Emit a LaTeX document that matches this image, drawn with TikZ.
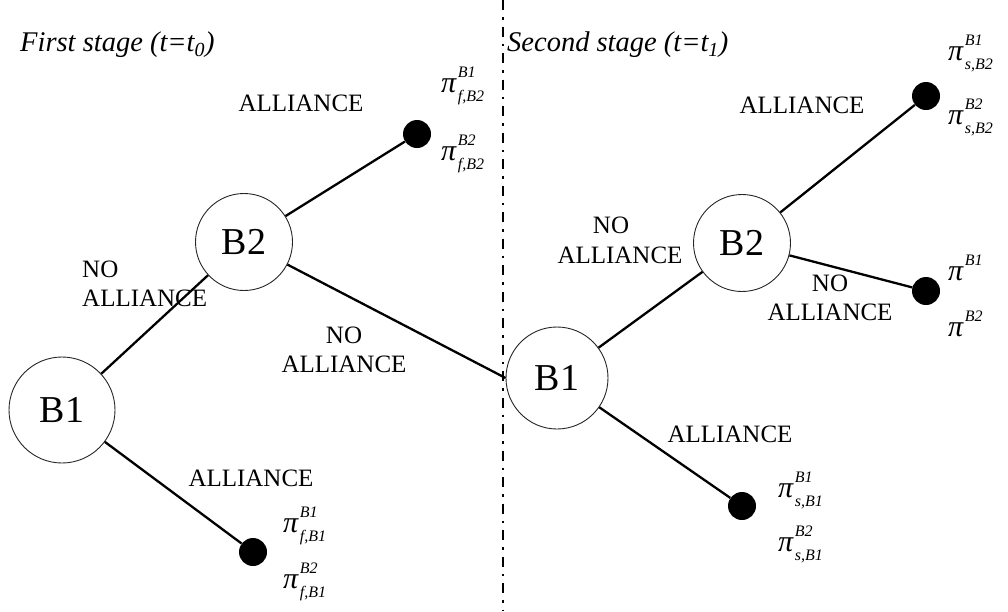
\documentclass[tikz,border=0pt]{standalone}
\usepackage{fontspec}
\setmainfont{Liberation Serif}
% payoff symbol: pi with a superscript and a subscript set one above the other
\newcommand\payoff[2]{\textit{π}\kern1pt\rlap{\raisebox{0.5em}{\fontsize{16}{16}\selectfont\textit{#1}}}\raisebox{-0.3em}{\fontsize{16}{16}\selectfont\textit{#2}}}
\begin{document}
\begin{tikzpicture}[x=1pt,y=-1pt,
  player/.style={circle,draw=black!85,line width=0.9pt,fill=white,inner sep=0pt,
    minimum size=#1,font=\fontsize{38}{40}\selectfont},
  leaf/.style={circle,fill=black,minimum size=28pt,inner sep=0pt},
  branch/.style={line width=2.3pt},
  lab/.style={font=\fontsize{25}{29}\selectfont,align=center,inner sep=0pt},
  stagelab/.style={font=\fontsize{28.5}{30}\selectfont\itshape,anchor=west,inner sep=0pt},
  pay/.style={font=\fontsize{30}{32}\selectfont,anchor=base west,inner sep=0pt}]

\useasboundingbox (0,0) rectangle (1008,611);

% stage divider
\coordinate (divtop) at (503,0);
\coordinate (divbot) at (503,611);
\draw[line width=2.3pt,dash pattern=on 10pt off 7pt on 2.5pt off 7pt] (divtop) -- (divbot);

% stage titles
\node[stagelab] (st1) at (20,45) {First stage (t=t\textsubscript{0})};
\node[stagelab] (st2) at (507,45) {Second stage (t=t\textsubscript{1})};

% decision nodes
\node[player=106pt] (b1a) at (62,410) {B1};
\node[player=97pt] (b2a) at (244,242) {B2};
\node[player=102pt] (b1b) at (557,378) {B1};
\node[player=97pt]  (b2b) at (742,243) {B2};

% terminal nodes
\node[leaf] (ta) at (417,134) {};
\node[leaf] (tb) at (253,552) {};
\node[leaf] (tc) at (926,96) {};
\node[leaf] (td) at (926,291) {};
\node[leaf] (te) at (742,506) {};

% branches
\draw[branch] (b1a) -- (b2a);
\draw[branch] (b1a) -- (tb);
\draw[branch] (b2a) -- (ta);
\draw[branch] (b2a) -- (b1b.west);
\draw[branch] (b1b) -- (b2b);
\draw[branch] (b1b) -- (te);
\draw[branch] (b2b) -- (tc);
\draw[branch] (b2b) -- (td);

% branch labels
\node[lab] (l1) at (301,103) {ALLIANCE};
\node[lab,align=left,anchor=west] (l2) at (82,284) {NO\\ALLIANCE};
\node[lab] (l3) at (344,350) {NO\\ALLIANCE};
\node[lab] (l4) at (251,478) {ALLIANCE};
\node[lab] (l5) at (802,105) {ALLIANCE};
\node[lab] (l6a) at (611,225) {NO};
\node[lab] (l6b) at (620,255) {ALLIANCE};
\node[lab] (l7) at (830,298) {NO\\ALLIANCE};
\node[lab] (l8) at (730,434) {ALLIANCE};

% payoffs
\node[pay] (pa1) at (441,92) {\payoff{B1}{f,B2}};
\node[pay] (pa2) at (441,160) {\payoff{B2}{f,B2}};
\node[pay] (pb1) at (283,532) {\payoff{B1}{f,B1}};
\node[pay] (pb2) at (283,588) {\payoff{B2}{f,B1}};
\node[pay] (pc1) at (948,60) {\payoff{B1}{s,B2}};
\node[pay] (pc2) at (948,124) {\payoff{B2}{s,B2}};
\node[pay] (pd1) at (948,280) {\payoff{B1}{}};
\node[pay] (pd2) at (948,336) {\payoff{B2}{}};
\node[pay] (pe1) at (778,497) {\payoff{B1}{s,B1}};
\node[pay] (pe2) at (778,551) {\payoff{B2}{s,B1}};
\end{tikzpicture}
\end{document}
